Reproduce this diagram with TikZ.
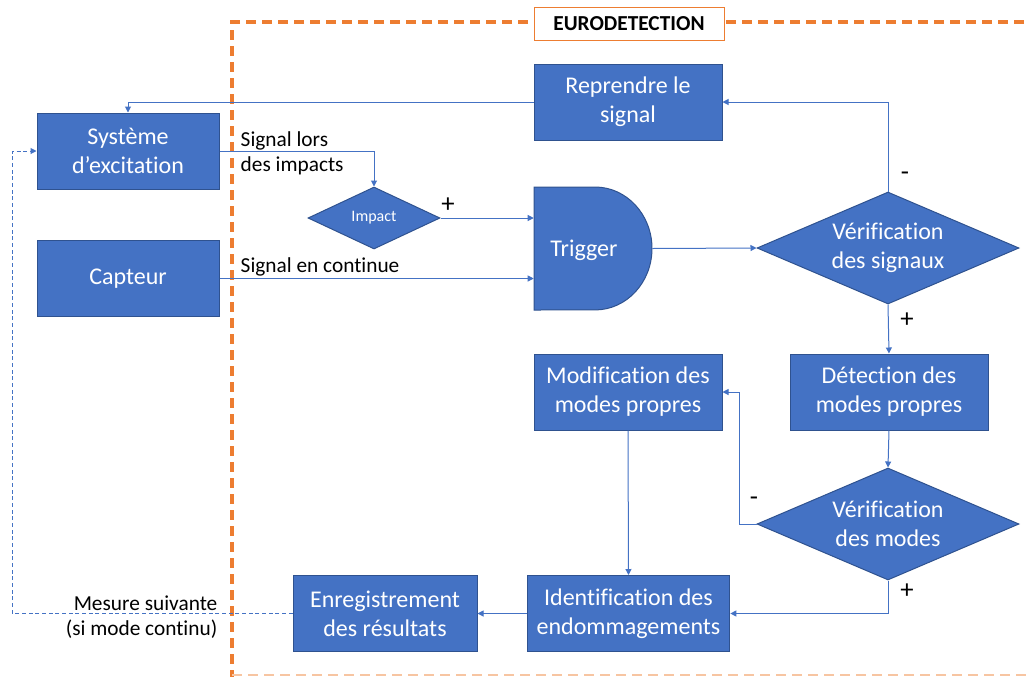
\documentclass[tikz,border=0pt]{standalone}
\usepackage{fontspec}
\setmainfont[Ligatures=NoCommon]{Carlito}
\usetikzlibrary{shapes.geometric, arrows.meta, positioning}
\definecolor{boxblue}{HTML}{4472C4}
\definecolor{boxline}{HTML}{2F528F}
\definecolor{frameorange}{HTML}{ED7D31}

\begin{document}
\begin{tikzpicture}[
    x=0.75pt, y=-0.75pt,
    every node/.style={font=\fontsize{16}{18.5}\selectfont},
    box/.style={rectangle, draw=boxline, fill=boxblue, line width=0.75pt, text=white, minimum height=57pt, align=center, inner sep=2pt, font=\fontsize{18}{21.75}\selectfont},
    decision/.style={diamond, draw=boxline, fill=boxblue, line width=0.75pt, text=white, aspect=2.34, minimum width=196.5pt, minimum height=84pt, inner sep=0pt, align=center, font=\fontsize{18}{21.75}\selectfont},
    arrow/.style={-{Triangle[length=4.5pt, width=4.5pt]}, draw=boxblue, line width=0.75pt},
    sign/.style={font=\fontsize{20}{22}\selectfont}
]
\useasboundingbox (0,0) rectangle (1026,676);
\clip (0,0) rectangle (1026,676);

\draw[frameorange, line width=3pt, dash pattern=on 7.5pt off 4.5pt] (1040,22) -| (232,680);
\draw[frameorange!45, line width=1pt, dash pattern=on 7.5pt off 4.5pt] (232,675) -- (1040,675);

\node[box, minimum width=136.5pt] (sys) at (128,151) {Système\\d’excitation};
\node[box, minimum width=136.5pt] (cap) at (128,278.5) {Capteur};
\node[decision, aspect=2.13, minimum width=99pt, minimum height=46.5pt, font=\fontsize{12}{14}\selectfont] (imp) at (374,218) {Impact};

\path[draw=boxline, fill=boxblue, line width=0.75pt] (534,187) -- (595,187) arc[start angle=90, end angle=-90, x radius=42.75pt, y radius=46.1pt] -- (534,310) -- cycle;
\node[minimum width=88.5pt, minimum height=92.25pt, inner sep=0pt,
      label={[xshift=-6.75pt, yshift=-1.5pt, text=white, font=\fontsize{18}{21.75}\selectfont]center:Trigger}] (trig) at (593,248.5) {};

\node[box, minimum width=141pt] (rep) at (628,102) {Reprendre le\\signal};
\node[decision] (vs) at (888,248) {Vérification\\des signaux};
\node[box, minimum width=148.5pt] (det) at (889,392) {Détection des\\modes propres};
\node[decision] (vm) at (888,524) {Vérification\\des modes};
\node[box, minimum width=141pt] (mod) at (628,392) {Modification des\\modes propres};
\node[box, minimum width=152pt] (ide) at (628.5,613.5) {Identification des\\endommagements};
\node[box, minimum width=138pt] (enr) at (385,613.5) {Enregistrement\\des résultats};

\draw[arrow] (rep.west) -| (sys.north);
\draw[arrow] (sys.east) -| (imp.north);
\draw[arrow] (imp.east) -- (imp.east -| trig.west);
\draw[arrow] (cap.east) -- (cap.east -| trig.west);
\draw[arrow] (trig.east) -- (vs.west);
\draw[arrow] (vs.north) |- (rep.east);
\draw[arrow] (vs.south) -- (det.north);
\draw[arrow] (det.south) -- (vm.north);
\draw[arrow] (vm.west) -- ++(-17,0) |- (mod.east);
\draw[arrow] (vm.south) |- (ide.east);
\draw[arrow] (mod.south) -- (ide.north);
\draw[arrow] (ide.west) -- (enr.east);
\draw[arrow, dash pattern=on 3pt off 2pt] (enr.west) -- ++(-280,0) |- (sys.west);

\node[anchor=west, align=left] (lblimp) at (236,153) {Signal lors\\des impacts};
\node[anchor=south west] (lblcont) at (236,281) {Signal en continue};
\node[anchor=east, align=right] (lblnext) at (222,617) {Mesure suivante\\(si mode continu)};

\node[sign] (s1) at (448,205) {+};
\node[sign] (s2) at (905,176) {-};
\node[sign] (s3) at (907,320) {+};
\node[sign] (s4) at (754,501) {-};
\node[sign] (s5) at (907,591) {+};

\node[draw=frameorange, fill=white, line width=0.75pt, minimum width=142.5pt, minimum height=24.75pt, font=\fontsize{16}{18}\selectfont\bfseries] (title) at (629,23.5) {EURODETECTION};
\end{tikzpicture}
\end{document}
